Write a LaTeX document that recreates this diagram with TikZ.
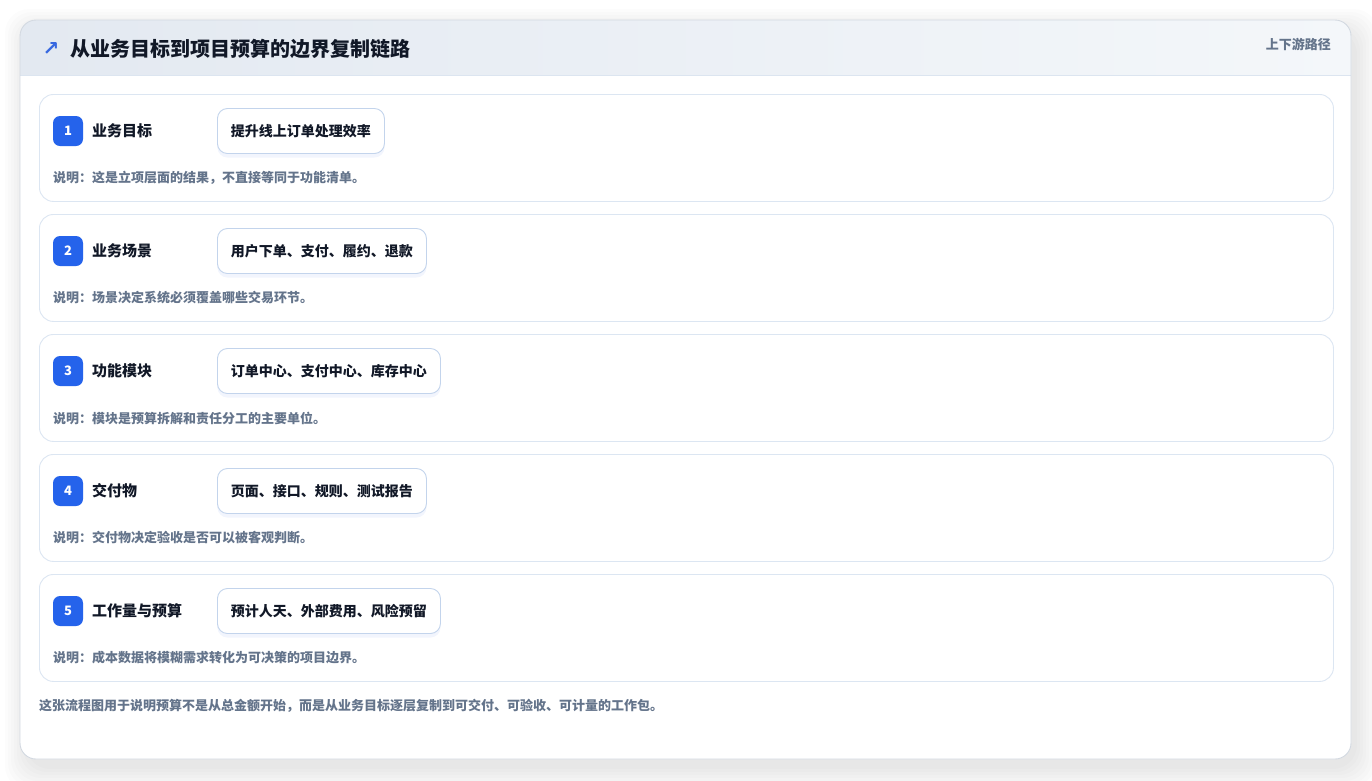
\documentclass[tikz,border=0pt]{standalone}
\usepackage{fontspec}
\setmainfont{Noto Sans CJK SC}
\newfontfamily\symfont{DejaVu Sans}
\usetikzlibrary{positioning, calc, shadows}

\definecolor{cardline}{HTML}{D3D9E1}
\definecolor{headleft}{HTML}{E3E9F1}
\definecolor{headright}{HTML}{F4F7FA}
\definecolor{headrule}{HTML}{DCE5F0}
\definecolor{rowline}{HTML}{DCE6F2}
\definecolor{badgeblue}{HTML}{2563EB}
\definecolor{valline}{HTML}{C3D4EC}
\definecolor{notegray}{HTML}{64748B}
\definecolor{ink}{HTML}{111827}
\definecolor{iconblue}{HTML}{3768E0}

\tikzset{
  rowbox/.style={draw=rowline, fill=white, rounded corners=14, line width=0.9,
    minimum width=1294, minimum height=107, inner sep=0},
  badge/.style={fill=badgeblue, text=white, rounded corners=7, minimum size=30,
    inner sep=0, font=\fontsize{13}{13}\selectfont\bfseries},
  steplabel/.style={text=ink, inner sep=0, font=\fontsize{15}{16}\selectfont\bfseries},
  valuebox/.style={draw=valline, fill=white, rounded corners=10, line width=0.9,
    minimum height=45, inner xsep=13.5, inner ysep=0, text=ink,
    font=\fontsize{14}{15}\selectfont\bfseries,
    drop shadow={shadow xshift=0pt, shadow yshift=-4pt, opacity=0.06, fill=badgeblue}},
  notetext/.style={text=notegray, inner sep=0, font=\fontsize{13}{14}\selectfont\bfseries}
}

\begin{document}
\begin{tikzpicture}[x=1pt,y=-1pt]
    \useasboundingbox (0,0) rectangle (1372,780);

    % soft shadow of the card
    \foreach \g in {0,3,...,21}
        \fill[black, opacity=0.011, rounded corners=24] (26-\g,30-\g) rectangle (1357+\g,769+\g);

    \fill[white, rounded corners=16] (20,20) rectangle (1351,759);
    \begin{scope}
        \clip[rounded corners=16] (20,20) rectangle (1351,759);
        \shade[left color=headleft, right color=headright] (20,20) rectangle (1351,75);
    \end{scope}
    \draw[headrule, line width=0.9] (20,75) -- (1351,75);
    \draw[cardline, line width=0.9, rounded corners=16] (20,20) rectangle (1351,759);

    \node[text=iconblue, inner sep=0, font=\symfont\bfseries\fontsize{20}{20}\selectfont] (icon) at (51,49) {↗};
    \node[anchor=west, inner sep=0, text=ink, font=\fontsize{20}{21}\selectfont\bfseries] (title) at (70,49) {从业务目标到项目预算的边界复制链路};
    \node[anchor=east, inner sep=0, text=notegray, font=\fontsize{13}{14}\selectfont\bfseries] (path) at (1331,44) {上下游路径};

    \foreach \i/\lab/\val/\note in {
        1/业务目标/提升线上订单处理效率/这是立项层面的结果，不直接等同于功能清单。,
        2/业务场景/用户下单、支付、履约、退款/场景决定系统必须覆盖哪些交易环节。,
        3/功能模块/订单中心、支付中心、库存中心/模块是预算拆解和责任分工的主要单位。,
        4/交付物/页面、接口、规则、测试报告/交付物决定验收是否可以被客观判断。,
        5/工作量与预算/预计人天、外部费用、风险预留/成本数据将模糊需求转化为可决策的项目边界。}
    {
        \pgfmathsetmacro{\top}{94+120*(\i-1)}
        \pgfmathsetmacro{\mid}{131+120*(\i-1)}
        \pgfmathsetmacro{\low}{178+120*(\i-1)}
        \node[rowbox, anchor=north west] (row\i) at (39,\top) {};
        \node[badge] (badge\i) at (68,\mid) {\i};
        \node[steplabel, anchor=west] (label\i) at (92,\mid) {\lab};
        \node[valuebox, anchor=west] (value\i) at (217,\mid) {\val};
        \node[notetext, anchor=west] (note\i) at (53,\low) {说明：\note};
    }

    \node[notetext, anchor=west] (footer) at (39,706) {这张流程图用于说明预算不是从总金额开始，而是从业务目标逐层复制到可交付、可验收、可计量的工作包。};
\end{tikzpicture}
\end{document}
